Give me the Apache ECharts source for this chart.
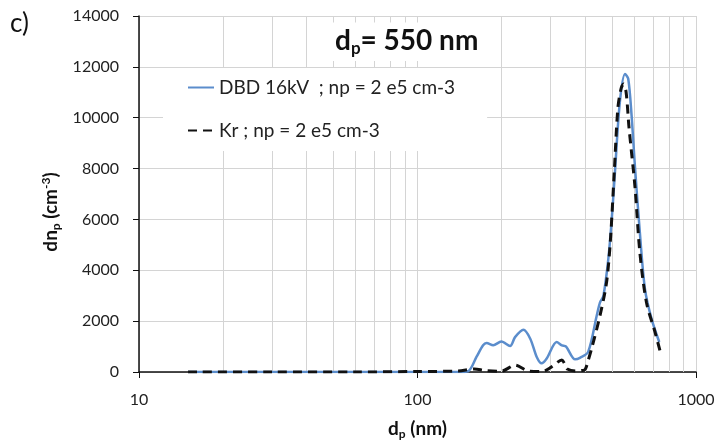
<!DOCTYPE html>
<html>
<head>
<meta charset="utf-8">
<script src="https://cdn.jsdelivr.net/npm/echarts@6/dist/echarts.min.js"></script>
<style>
  html, body { margin: 0; padding: 0; background: #fff; }
  #main { width: 718px; height: 445px; }
</style>
</head>
<body>
<div id="main"></div>
<script>
// particle size (nm) and concentration
var dbdX = [15, 50, 100, 140, 152, 163, 172, 177, 187, 200, 215, 224, 240, 254, 268, 279, 291, 316, 330, 341, 368, 383, 410, 440, 452, 465, 484, 498, 512, 533, 556, 571, 587, 604, 629, 656, 693, 738];
var dbdY = [0, 0, 0, 0, 30, 600, 1050, 1140, 1050, 1200, 1020, 1370, 1660, 1310, 590, 340, 530, 1180, 1050, 1010, 500, 555, 790, 2210, 2730, 2990, 4410, 5970, 7910, 10630, 11720, 11530, 10100, 8040, 5450, 3250, 2080, 1180];

var krX = [15, 30, 60, 100, 140, 160, 175, 200, 224, 250, 280, 303, 330, 338, 345, 370, 390, 400, 410, 422, 452, 477, 492, 509, 524, 538, 549, 561, 575, 604, 629, 664, 713, 742];
var krY = [0, 0, 0, 20, 40, 120, 60, 30, 270, 40, 20, 200, 470, 310, 120, 40, 60, 100, 450, 920, 2210, 3500, 5060, 7910, 10360, 11140, 11330, 11010, 9590, 7260, 4670, 2730, 1560, 850];

var minorGrid = [20, 30, 40, 50, 60, 70, 80, 90, 200, 300, 400, 500, 600, 700, 800, 900];
var seriesNames = ['DBD 16kV  ; np = 2 e5 cm-3', 'Kr ; np = 2 e5 cm-3'];

function pairs(xs, ys) {
    var out = [];
    for (var i = 0; i < xs.length; i++) out.push([xs[i], ys[i]]);
    return out;
}

var font = 'Lato, "Open Sans", sans-serif';
var gridColor = '#d4d4d4';

var myChart = echarts.init(document.getElementById('main'));

option = {
    animation: false,
    backgroundColor: '#fff',
    textStyle: { fontFamily: font },
    title: {
        text: 'd{sub|p}= 550 nm',
        left: 331,
        top: 20,
        padding: [4, 10, 4, 4],
        backgroundColor: '#fff',
        textStyle: {
            fontFamily: font,
            fontSize: 28,
            fontWeight: 'bold',
            color: '#111',
            rich: {
                sub: { fontSize: 17, fontWeight: 'bold', fontFamily: font, color: '#111', padding: [16, 0, 0, 0] }
            }
        }
    },
    graphic: [{
        type: 'text',
        left: 10,
        top: 11,
        style: { text: 'c)', fontSize: 26, fontFamily: font, fill: '#111' }
    }],
    legend: {
        data: seriesNames,
        orient: 'vertical',
        left: 163,
        top: 68,
        padding: [10, 32, 11, 24],
        itemGap: 24,
        itemWidth: 26,
        itemHeight: 16,
        backgroundColor: '#fff',
        itemStyle: { opacity: 0 },
        textStyle: { fontFamily: font, fontSize: 19, color: '#222' }
    },
    grid: { left: 139, right: 22, top: 16, bottom: 68 },
    xAxis: {
        type: 'log',
        logBase: 10,
        min: 10,
        max: 1000,
        name: 'd{sub|p} (nm)',
        nameLocation: 'middle',
        nameGap: 46,
        nameTextStyle: {
            fontFamily: font, fontSize: 19, fontWeight: 'bold', color: '#111',
            rich: { sub: { fontSize: 12, fontWeight: 'bold', fontFamily: font, color: '#111', padding: [10, 0, 0, 0] } }
        },
        axisLine: { lineStyle: { color: '#111', width: 1.5 } },
        axisTick: { show: true, length: 6, lineStyle: { color: '#111' } },
        axisLabel: { fontSize: 16, color: '#222', margin: 20, formatter: function (v) { return String(v); } },
        splitLine: { show: true, lineStyle: { color: gridColor, width: 1 } }
    },
    yAxis: {
        type: 'value',
        min: 0,
        max: 14000,
        interval: 2000,
        name: 'dn{sub|p} (cm{sup|-3})',
        nameLocation: 'middle',
        nameGap: 66,
        nameRotate: 90,
        nameTextStyle: {
            fontFamily: font, fontSize: 19, fontWeight: 'bold', color: '#111',
            padding: [0, 36, 0, 0],
            rich: {
                sub: { fontSize: 12, fontWeight: 'bold', fontFamily: font, color: '#111', padding: [10, 0, 0, 0] },
                sup: { fontSize: 12, fontWeight: 'bold', fontFamily: font, color: '#111', padding: [0, 0, 10, 0] }
            }
        },
        axisLine: { show: true, lineStyle: { color: '#111', width: 1.5 } },
        axisTick: { show: true, length: 6, lineStyle: { color: '#111' } },
        axisLabel: { fontSize: 16, color: '#222', margin: 20, formatter: function (v) { return String(v); } },
        splitLine: { show: true, lineStyle: { color: gridColor, width: 1 } }
    },
    series: [{
        name: seriesNames[0],
        type: 'line',
        data: pairs(dbdX, dbdY),
        showSymbol: false,
        symbol: 'none',
        smooth: 0.3,
        z: 3,
        lineStyle: { color: '#5b8dcc', width: 2.5 },
        itemStyle: { color: '#5b8dcc' },
        markLine: {
            silent: true,
            symbol: 'none',
            label: { show: false },
            z: 1,
            lineStyle: { color: gridColor, width: 1, type: 'solid' },
            data: minorGrid.map(function (v) { return { xAxis: v }; })
        }
    }, {
        name: seriesNames[1],
        type: 'line',
        data: pairs(krX, krY),
        showSymbol: false,
        symbol: 'none',
        smooth: 0.3,
        z: 4,
        lineStyle: { color: '#111', width: 3, type: [9, 6] },
        itemStyle: { color: '#111' }
    }]
};

myChart.setOption(option);
</script>
</body>
</html>
